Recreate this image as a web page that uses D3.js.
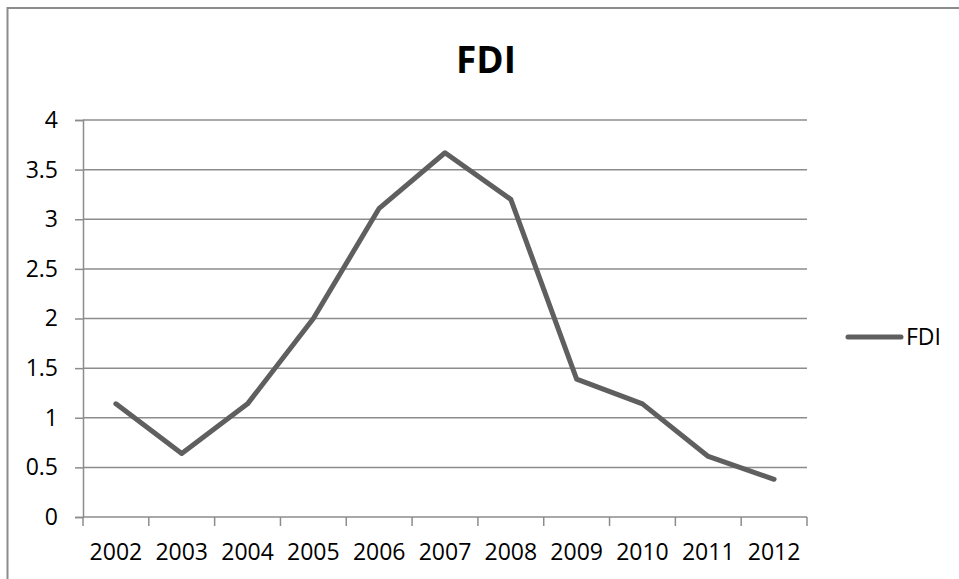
<!DOCTYPE html>
<html>
<head>
<meta charset="utf-8">
<script src="https://cdn.jsdelivr.net/npm/d3@7"></script>
<style>
  body { margin: 0; background: #fff; }
  svg { display: block; font-family: "Open Sans", "Liberation Sans", sans-serif; }
</style>
</head>
<body>
<div id="chart"></div>
<script>
// chart data
const years = ['2002', '2003', '2004', '2005', '2006', '2007', '2008', '2009', '2010', '2011', '2012'];
const fdi = [1.14, 0.64, 1.14, 2.0, 3.11, 3.67, 3.2, 1.39, 1.14, 0.61, 0.38];
const yTicks = [0, 0.5, 1, 1.5, 2, 2.5, 3, 3.5, 4];
const seriesName = 'FDI';

const width = 959, height = 579;
const margin = { top: 120, left: 83, right: 152, bottom: 62 };
const plotW = 807 - margin.left;
const plotH = 517 - margin.top;

const svg = d3.select('#chart').append('svg')
    .attr('width', width)
    .attr('height', height);

// outer frame (cropped at right/bottom)
svg.append('rect')
    .attr('x', 7.5).attr('y', 8)
    .attr('width', 1000).attr('height', 1000)
    .attr('fill', 'none')
    .attr('stroke', '#8c8c8c')
    .attr('stroke-width', 2);

// title
svg.append('text')
    .attr('x', 486).attr('y', 73)
    .attr('text-anchor', 'middle')
    .attr('font-weight', 'bold')
    .attr('font-size', 37)
    .text(seriesName);

const chart = svg.append('g')
    .attr('transform', `translate(${margin.left},${margin.top})`);

const x = d3.scaleBand().domain(years).range([0, plotW]).padding(0);
const y = d3.scaleLinear().domain([0, 4]).range([plotH, 0]);

// gridlines
chart.append('g')
    .selectAll('line')
    .data(yTicks.filter(d => d > 0))
    .join('line')
    .attr('x1', 0).attr('x2', plotW)
    .attr('y1', d => y(d)).attr('y2', d => y(d))
    .attr('stroke', '#8c8c8c')
    .attr('stroke-width', 1.5);

// y axis
const yAxis = chart.append('g')
    .call(d3.axisLeft(y).tickValues(yTicks).tickSize(8).tickPadding(17).tickFormat(d3.format('')));
yAxis.select('.domain').attr('stroke', '#8c8c8c').attr('stroke-width', 1.5);
yAxis.selectAll('.tick line').attr('stroke', '#8c8c8c').attr('stroke-width', 1.5);
yAxis.selectAll('.tick text')
    .attr('font-size', 23)
    .attr('fill', '#000')
    .attr('font-family', '"Open Sans", sans-serif');

// x axis - ticks at band edges
const xEdges = d3.range(years.length + 1).map(i => i * x.step());
const xg = chart.append('g').attr('transform', `translate(0,${plotH})`);
xg.append('line')
    .attr('x1', 0).attr('x2', plotW)
    .attr('stroke', '#8c8c8c').attr('stroke-width', 1.5);
xg.selectAll('line.tk')
    .data(xEdges)
    .join('line')
    .attr('class', 'tk')
    .attr('x1', d => d).attr('x2', d => d)
    .attr('y1', 0).attr('y2', 9)
    .attr('stroke', '#8c8c8c').attr('stroke-width', 1.5);
xg.selectAll('text')
    .data(years)
    .join('text')
    .attr('x', d => x(d) + x.bandwidth() / 2)
    .attr('y', 43)
    .attr('text-anchor', 'middle')
    .attr('font-size', 23)
    .text(d => d);

// series line
const line = d3.line()
    .x((d, i) => x(years[i]) + x.bandwidth() / 2)
    .y(d => y(d));

chart.append('path')
    .datum(fdi)
    .attr('d', line)
    .attr('fill', 'none')
    .attr('stroke', '#5f5f5f')
    .attr('stroke-width', 5)
    .attr('stroke-linejoin', 'round')
    .attr('stroke-linecap', 'round');

// legend
const legend = svg.append('g').attr('transform', 'translate(848,337)');
legend.append('line')
    .attr('x1', 0).attr('x2', 53)
    .attr('stroke', '#5f5f5f')
    .attr('stroke-width', 5)
    .attr('stroke-linecap', 'round');
legend.append('text')
    .attr('x', 58).attr('y', 0)
    .attr('dy', '0.35em')
    .attr('font-size', 23)
    .text(seriesName);
</script>
</body>
</html>
